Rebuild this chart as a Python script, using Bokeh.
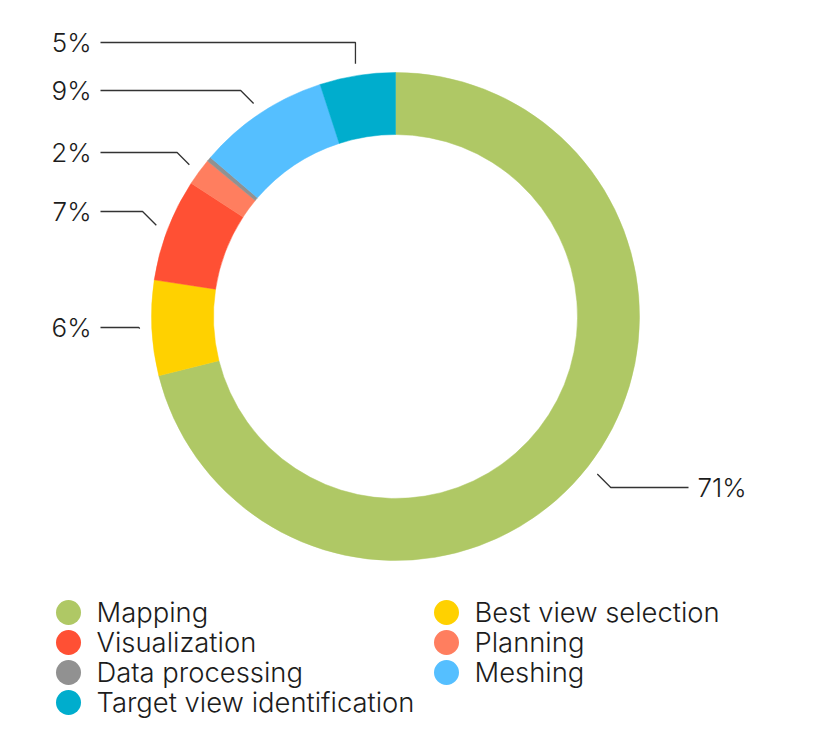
import math
import numpy as np
from bokeh.plotting import figure
from bokeh.models import Range1d
from bokeh.core.properties import value
from bokeh.embed import file_html
from bokeh.resources import INLINE

# ---- data ----
categories = ["Mapping", "Best view selection", "Visualization", "Planning",
              "Data processing", "Meshing", "Target view identification"]
shares = [71.1, 6.3, 6.8, 1.8, 0.3, 8.7, 5.0]
colors = ["#AFC865", "#FFD100", "#FF5034", "#FF7E5F", "#919191", "#55BFFF", "#00ADCD"]
pct_labels = ["71%", "6%", "7%", "2%", "", "9%", "5%"]

# ---- layout ----
W, H = 798, 729
FONT = value("Inter Light, Inter")
TXT = "#1c1c1c"
cx, cy = 395, -316
R_OUT, R_IN, R_LEAD = 244, 182, 256

p = figure(width=W, height=H, output_backend="svg", toolbar_location=None,
           x_range=Range1d(0, W), y_range=Range1d(-H, 0),
           min_border=0)
p.axis.visible = False
p.grid.visible = False
p.outline_line_color = None
p.background_fill_color = "white"
p.border_fill_color = "white"

total = float(sum(shares))
cum = np.concatenate([[0.0], np.cumsum(shares)])
start = math.pi / 2 - 2 * math.pi * cum[:-1] / total
end = math.pi / 2 - 2 * math.pi * cum[1:] / total

p.annular_wedge(x=cx, y=cy, inner_radius=R_IN, outer_radius=R_OUT,
                start_angle=start.tolist(), end_angle=end.tolist(), direction="clock",
                fill_color=colors, line_color=colors, line_width=0.5)

# ---- leader lines & percentage labels ----
label_y = {6: 42, 5: 90, 3: 152, 2: 211, 1: 327, 0: 487}
mode = {6: "v", 5: "d", 3: "d", 2: "d", 1: "d", 0: "d"}
LEFT_END, LEFT_TXT = 100, 91
RIGHT_END, RIGHT_TXT = 688, 697
TXT_DY = 0.5

xs, ys = [], []
tl_x, tl_y, tl_t = [], [], []
tr_x, tr_y, tr_t = [], [], []
for i, ly_s in label_y.items():
    mid = (start[i] + end[i]) / 2
    px = cx + R_LEAD * math.cos(mid)
    py = cy + R_LEAD * math.sin(mid)
    ly = -ly_s
    right = px > cx
    if mode[i] == "v":
        ex = px
    else:
        d = abs(py - ly)
        ex = px + d if right else px - d
    xend = RIGHT_END if right else LEFT_END
    xs.append([px, ex, xend])
    ys.append([py, ly, ly])
    if right:
        tr_x.append(RIGHT_TXT); tr_y.append(ly + TXT_DY); tr_t.append(pct_labels[i])
    else:
        tl_x.append(LEFT_TXT); tl_y.append(ly + TXT_DY); tl_t.append(pct_labels[i])

p.multi_line(xs=xs, ys=ys, line_color="#333333", line_width=1.3)
p.text(x=tl_x, y=tl_y, text=tl_t, text_font=FONT, text_font_size="26px",
       text_align="right", text_baseline="alphabetic", text_color=TXT)
p.text(x=tr_x, y=tr_y, text=tr_t, text_font=FONT, text_font_size="26px",
       text_align="left", text_baseline="alphabetic", text_color=TXT)

# ---- legend (two columns, row-major order) ----
col_x = [68, 446]
row_y0, row_dy = 612, 30
lx, ly_, lt = [], [], []
for i, name in enumerate(categories):
    r, c = divmod(i, 2)
    lx.append(col_x[c])
    ly_.append(-(row_y0 + r * row_dy))
    lt.append(name)
p.scatter(x=lx, y=ly_, size=25, marker="circle", fill_color=colors, line_color=None)
p.text(x=[x + 28 for x in lx], y=[y + TXT_DY for y in ly_], text=lt, text_font=FONT,
       text_font_size="27.4px", text_align="left", text_baseline="alphabetic",
       text_color=TXT)

open("out.html", "w").write(file_html(p, INLINE))
